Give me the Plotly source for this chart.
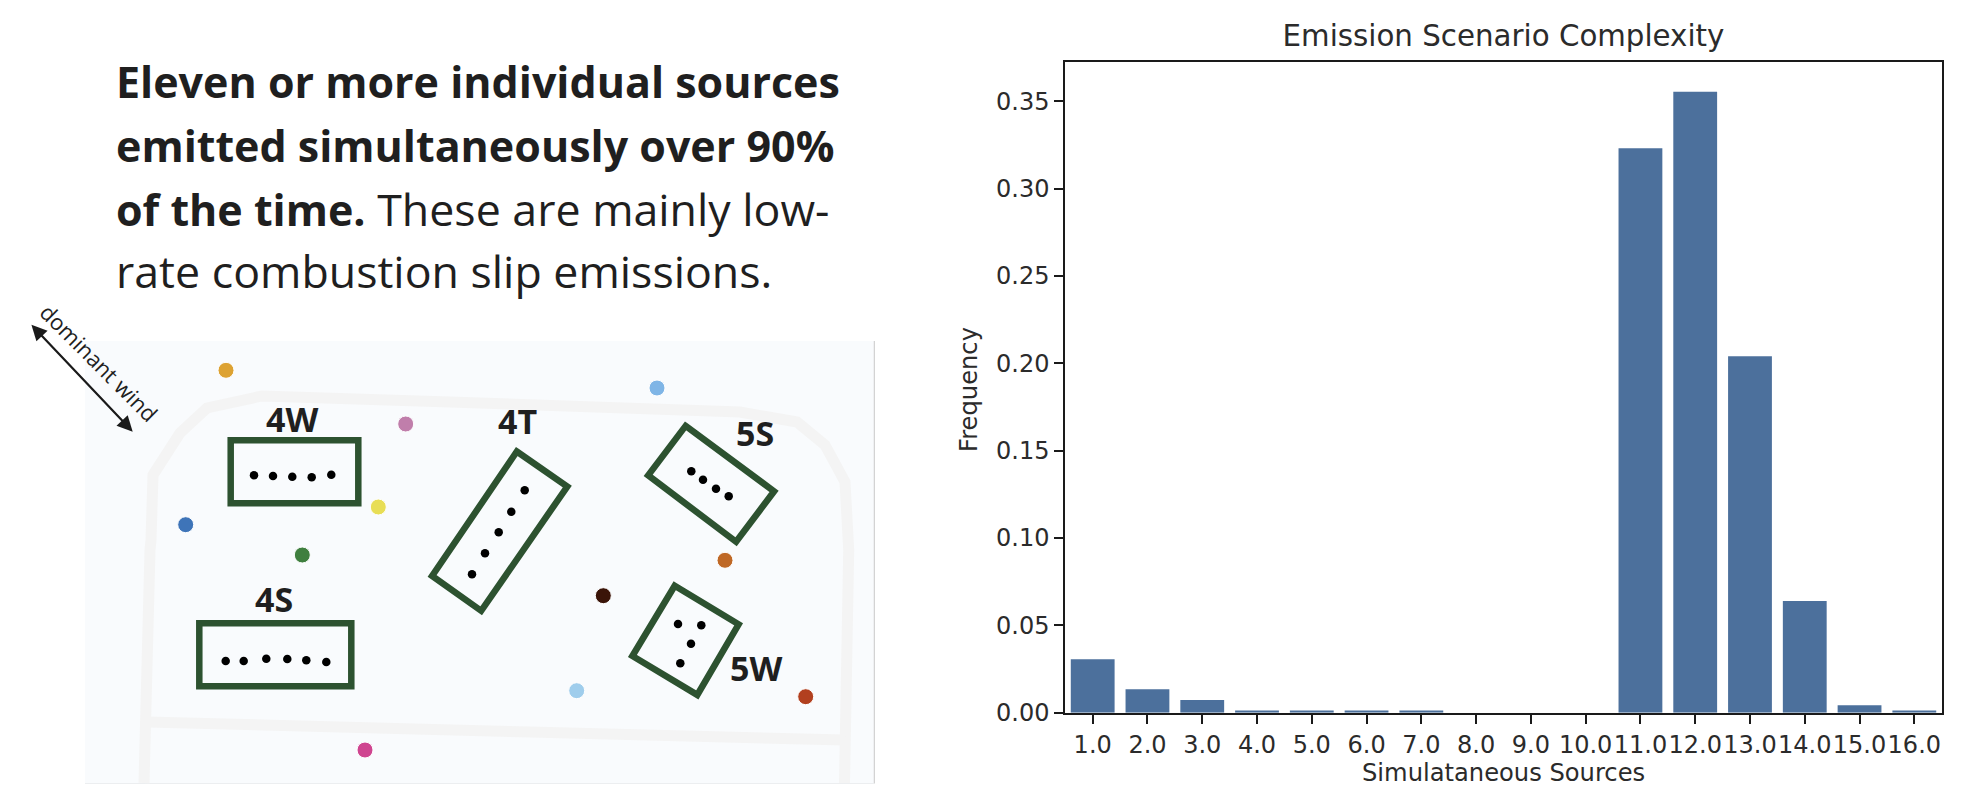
import plotly.graph_objects as go

W, H = 1966, 804

# ---- bar chart data
source_counts = ["1.0","2.0","3.0","4.0","5.0","6.0","7.0","8.0","9.0","10.0","11.0","12.0","13.0","14.0","15.0","16.0"]
frequency = [0.0306,0.0134,0.0073,0.0012,0.0012,0.0012,0.0012,0.0,0.0,0.0,0.3232,0.3555,0.2040,0.0640,0.0042,0.0012]
y_ticks = [0.0,0.05,0.10,0.15,0.20,0.25,0.30,0.35]

# ---- site map data (page-pixel scale axes)
sensor_x = [226,405.7,378.3,185.7,657,725,302.3,365,603.3,576.7,805.7]
sensor_y = [370.3,424,507,524.7,388,560.3,555,750,595.7,690.7,696.7]
sensor_colors = ["#dda232","#c07eab","#e8de55","#3e74b8","#7fb5e6","#bf6825","#3f7f3f","#cf4590","#3a1408","#9fcdec","#b2401f"]

source_x = [254,273,292.3,311.7,331.3, 524.7,511.3,498.7,485,472, 691.3,703,716,728.7,
            225.7,243.7,266.3,287.3,306.3,326.3, 678,701.3,691,680.3]
source_y = [475.3,476,476.7,477.3,474.7, 490.3,511.7,532.3,553.3,574.3, 471.3,479.7,488.7,496.3,
            661,661,658.7,659,660.3,662, 624,625.3,643.7,663.3]

pad_outlines = {
    "4W": [(230.7,440.3),(358.3,440.3),(358.3,503.3),(230.7,503.3)],
    "4S": [(199.3,623.3),(351.3,623.3),(351.3,686.3),(199.3,686.3)],
    "4T": [(516.8,451.5),(567.3,486.5),(481.2,610.8),(432.1,576)],
    "5S": [(685.6,425.9),(774.1,491.3),(736.1,541.8),(648.2,475.4)],
    "5W": [(674.7,585.8),(738.6,624.3),(697.3,694.9),(632.4,656)],
}
pad_label_names = ["4W","4T","5S","4S","5W"]
pad_label_x = [292.3,517.7,754.7,274.3,756]
pad_label_y = [419.3,421,432.7,599,668.3]

road_outer = [(144,783),(150,550),(151,540),(153,475),(180,433),(207,408),(262,396),(450,402),
              (740,412),(797,422),(825,445),(845,482),(848,537),(848.7,550),(844.5,783)]
road_cross = [(147,722),(530,732),(845,740)]

B = '<span style="font-size:43px"><b>%s</b></span>'
text_lines = [
    B % "Eleven or more individual sources",
    B % "emitted simultaneously over 90%",
    (B % "of the time.") + " These are mainly low-",
    "rate combustion slip emissions.",
]
text_y = [81.5,145.5,208.5,270.5]

TEXT = "#1f1f1f"
CHART_TEXT = "#2b2b2b"
GREEN = "#2d5230"
ROAD = "#f4f4f4"
MAP_W = 900

fig = go.Figure()
fig.add_trace(go.Bar(x=source_counts, y=frequency, width=0.8, marker=dict(color="#4c709c", line_width=0),
                     xaxis="x", yaxis="y", showlegend=False))
fig.add_trace(go.Scatter(x=sensor_x, y=sensor_y, mode="markers", xaxis="x2", yaxis="y2", showlegend=False,
                         marker=dict(size=16, color=sensor_colors, line=dict(color="white", width=1))))
fig.add_trace(go.Scatter(x=source_x, y=source_y, mode="markers", xaxis="x2", yaxis="y2", showlegend=False,
                         marker=dict(size=8.5, color="black", line_width=0)))


def path(points, closed=False):
    s = "M " + " L ".join(f"{x},{y}" for x, y in points)
    return s + (" Z" if closed else "")


shapes = [
    dict(type="rect", xref="x2", yref="y2", x0=85, x1=874, y0=341, y1=783.5, layer="below",
         fillcolor="#f9fbfd", line_width=0),
    dict(type="line", xref="x2", yref="y2", x0=874.3, x1=874.3, y0=341, y1=783.5, layer="below",
         line=dict(color="#c9c9c9", width=1)),
    dict(type="line", xref="x2", yref="y2", x0=85, x1=874, y0=783.5, y1=783.5, layer="below",
         line=dict(color="#eceef0", width=1)),
    dict(type="path", xref="x2", yref="y2", path=path(road_outer), layer="below", line=dict(color=ROAD, width=11)),
    dict(type="path", xref="x2", yref="y2", path=path(road_cross), layer="below", line=dict(color=ROAD, width=11)),
]
for pts in pad_outlines.values():
    shapes.append(dict(type="path", xref="x2", yref="y2", path=path(pts, True), layer="below",
                       line=dict(color=GREEN, width=6.5)))

annotations = []
for t, y in zip(text_lines, text_y):
    annotations.append(dict(text=t, xref="x2", yref="y2", x=114, y=y, xanchor="left", yanchor="middle",
                            showarrow=False, font=dict(family="Open Sans", size=44.7, color=TEXT)))
for n, x, y in zip(pad_label_names, pad_label_x, pad_label_y):
    annotations.append(dict(text=f"<b>{n}</b>", xref="x2", yref="y2", x=x, y=y, xanchor="center", yanchor="middle",
                            showarrow=False, font=dict(family="Open Sans", size=34, color=TEXT)))
annotations.append(dict(text="dominant wind", xref="x2", yref="y2", x=99, y=362, textangle=45,
                        xanchor="center", yanchor="middle", showarrow=False,
                        font=dict(family="Open Sans", size=22, color=TEXT)))
annotations.append(dict(text="", xref="x2", yref="y2", axref="x2", ayref="y2", x=132.7, y=431.7, ax=30, ay=323.3,
                        showarrow=True, arrowhead=2, startarrowhead=2, arrowside="end+start",
                        arrowsize=1.4, startarrowsize=1.4, arrowwidth=2.2, arrowcolor="#1a1a1a"))
annotations.append(dict(text="Simulataneous Sources", xref="paper", yref="paper", x=1503/W, y=1-773/H,
                        xanchor="center", yanchor="middle", showarrow=False,
                        font=dict(family="DejaVu Sans", size=24.2, color=CHART_TEXT)))
annotations.append(dict(text="Frequency", xref="paper", yref="paper", x=969/W, y=1-390/H, textangle=-90,
                        xanchor="center", yanchor="middle", showarrow=False,
                        font=dict(family="DejaVu Sans", size=24.2, color=CHART_TEXT)))

fig.update_layout(
    width=W, height=H, autosize=False, margin=dict(l=0, r=0, t=0, b=0),
    paper_bgcolor="white", plot_bgcolor="rgba(0,0,0,0)", showlegend=False, shapes=shapes, annotations=annotations,
    font=dict(family="DejaVu Sans", color=CHART_TEXT),
    title=dict(text="Emission Scenario Complexity", x=1503.5/W, xanchor="center", y=1-36/H, yanchor="middle",
               font=dict(family="DejaVu Sans", size=29.3, color=CHART_TEXT)),
    xaxis=dict(domain=[1065.3/W, 1941.7/W], anchor="y", type="category", categoryorder="array",
               categoryarray=source_counts, range=[-0.5, 15.5], tickmode="array", tickvals=source_counts,
               ticktext=source_counts, ticks="outside", ticklen=9, tickwidth=1.7, tickcolor="#1a1a1a",
               tickangle=0, automargin=False,
               tickfont=dict(size=24, color=CHART_TEXT), showgrid=False, zeroline=False,
               showline=True, linecolor="#1a1a1a", linewidth=2, mirror=True),
    yaxis=dict(domain=[1-712.7/H, 1-61.5/H], anchor="x", range=[0, 0.3728], tickmode="array", tickvals=y_ticks,
               tickformat=".2f", ticks="outside", ticklen=9, tickwidth=1.7, tickcolor="#1a1a1a", automargin=False,
               tickfont=dict(size=24, color=CHART_TEXT), showgrid=False, zeroline=False,
               showline=True, linecolor="#1a1a1a", linewidth=2, mirror=True),
    xaxis2=dict(domain=[0, MAP_W/W], anchor="y2", range=[0, MAP_W], visible=False, fixedrange=True),
    yaxis2=dict(domain=[0, 1], anchor="x2", range=[H, 0], visible=False, fixedrange=True),
)

fig.write_html("out.html", config={"displayModeBar": False},
               post_script="document.body.style.margin='0';document.body.style.overflow='hidden';")
